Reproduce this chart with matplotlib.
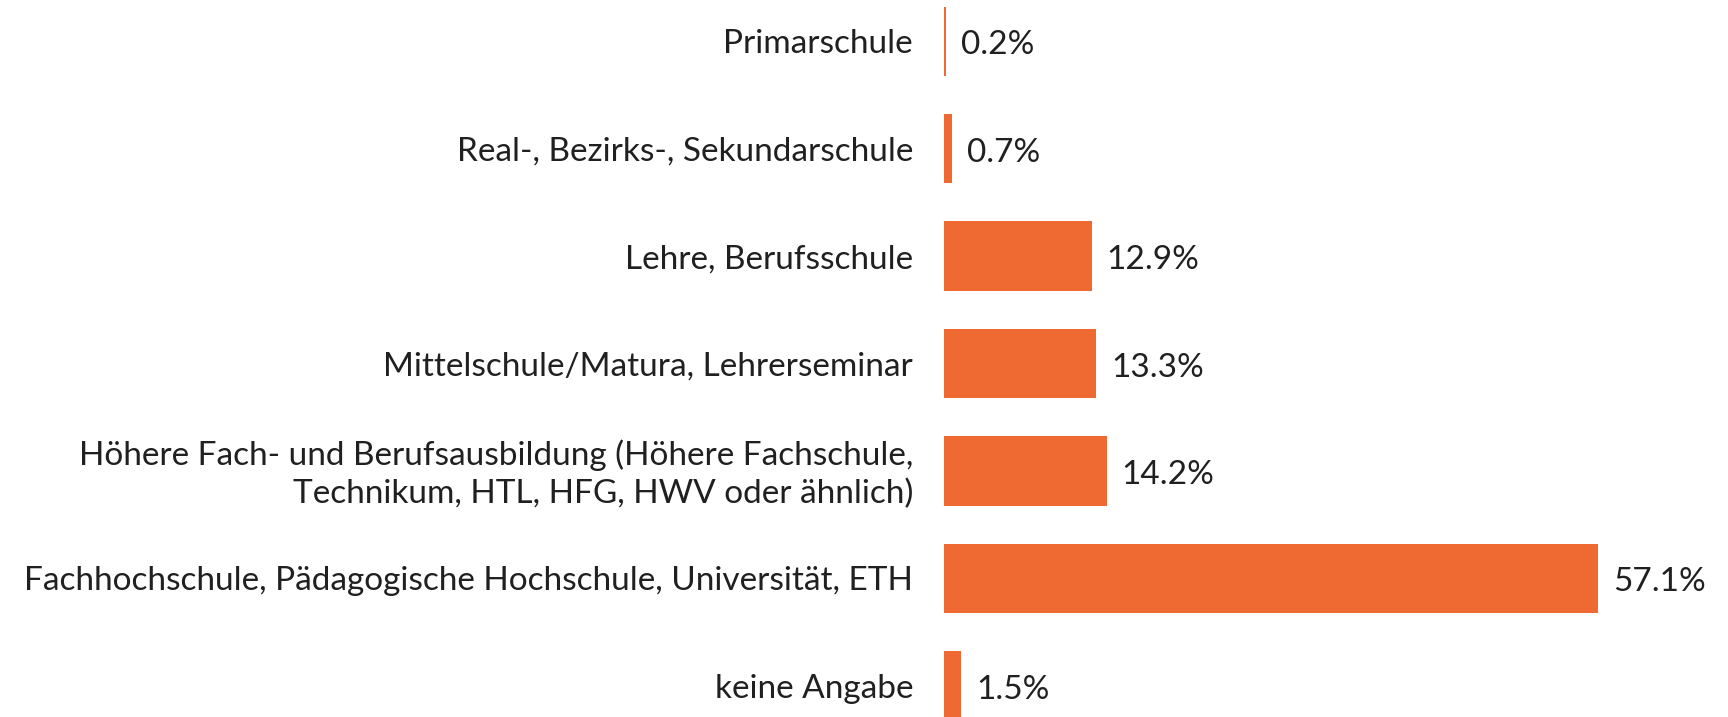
import matplotlib
matplotlib.use('Agg')
import matplotlib.pyplot as plt

categories = [
    'Primarschule',
    'Real-, Bezirks-, Sekundarschule',
    'Lehre, Berufsschule',
    'Mittelschule/Matura, Lehrerseminar',
    'Höhere Fach- und Berufsausbildung (Höhere Fachschule,\nTechnikum, HTL, HFG, HWV oder ähnlich)',
    'Fachhochschule, Pädagogische Hochschule, Universität, ETH',
    'keine Angabe',
]
values = [0.2, 0.7, 12.9, 13.3, 14.2, 57.1, 1.5]
value_labels = ['0.2%', '0.7%', '12.9%', '13.3%', '14.2%', '57.1%', '1.5%']

orange = '#EF6A32'
fsize = 24
font = dict(family='Lato', fontweight='normal', fontsize=fsize, color='#202020')

fig = plt.figure(figsize=(17.28, 7.17), dpi=100)
ax = fig.add_axes([0, 0, 1, 1])

pos = list(range(len(categories)))
ax.barh(pos, values, height=0.646, color=orange)

for i, (v, lab) in enumerate(zip(values, value_labels)):
    ax.annotate(lab, (v, i), xytext=(15, -4), textcoords='offset pixels',
                ha='left', va='center', **font)

for i, cat in enumerate(categories):
    ax.annotate(cat, (0, i), xytext=(-31, -3), textcoords='offset pixels',
                ha='right', va='center', multialignment='right',
                linespacing=1.32, **font)

ax.set_xlim(-82.45, 68.47)
ax.set_ylim(6.291, -0.3846)
ax.axis('off')

fig.savefig('out.png', dpi=100, facecolor='white')
